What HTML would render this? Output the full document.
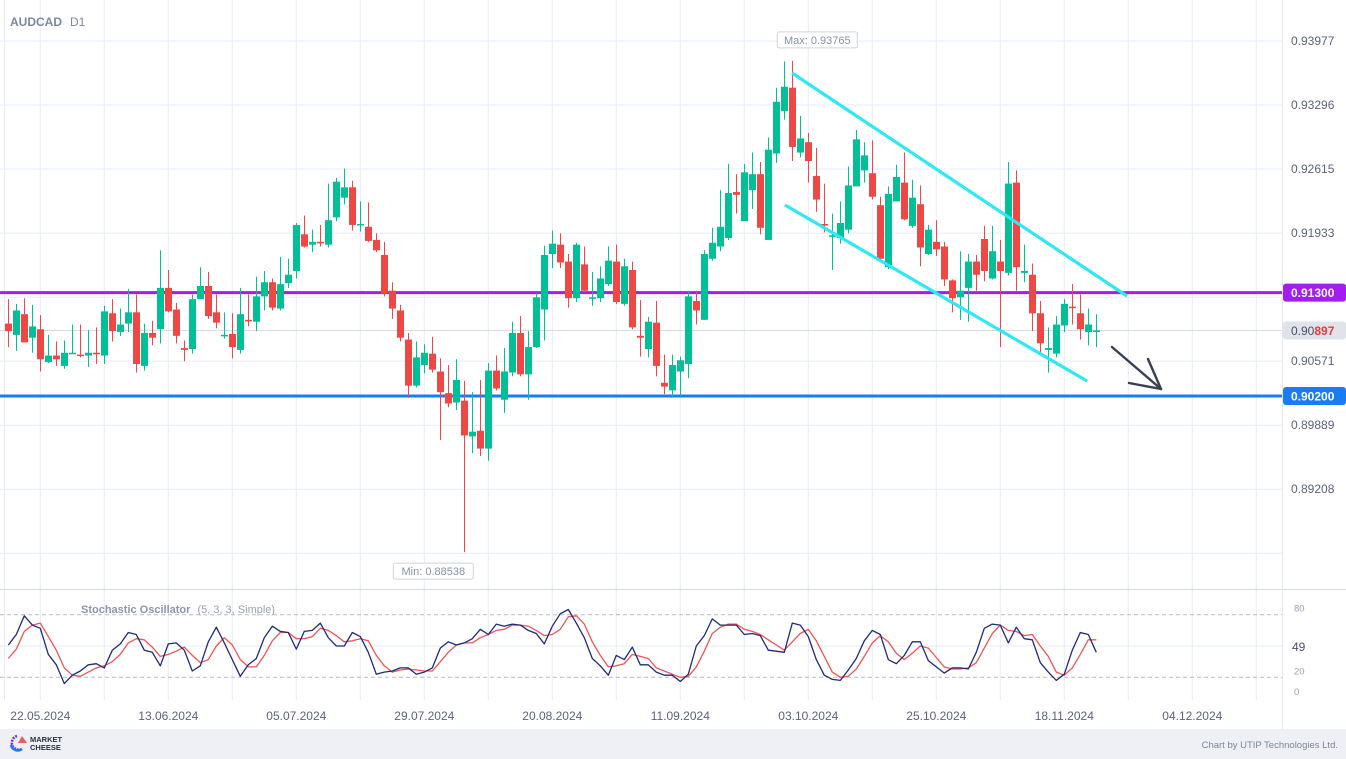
<!DOCTYPE html>
<html><head><meta charset="utf-8"><title>AUDCAD D1</title>
<style>
html,body{margin:0;padding:0;background:#fff;width:1346px;height:759px;overflow:hidden;font-family:"Liberation Sans",Arial,sans-serif;}
svg{display:block}
</style></head>
<body>
<svg id="chart" width="1346" height="759" viewBox="0 0 1346 759" xmlns="http://www.w3.org/2000/svg">
  <rect x="0" y="0" width="1346" height="759" fill="#ffffff"/>
  <g id="grid"></g>
  <g id="stochGrid"></g>
  <line x1="0" y1="589.5" x2="1346" y2="589.5" stroke="#d6dae2" stroke-width="1"/>
  <line x1="1282.5" y1="0" x2="1282.5" y2="729" stroke="#e3e7ef" stroke-width="1"/>
  <g id="levels"></g>
  <g id="candles"></g>
  <g id="drawings">
    <line x1="792" y1="73" x2="1127" y2="296" stroke="#2ee8f5" stroke-width="3.2"/>
    <line x1="785" y1="205" x2="1087" y2="381" stroke="#2ee8f5" stroke-width="3.2"/>
    <g stroke="#3a3f52" stroke-width="2.4" fill="none" stroke-linecap="round">
      <line x1="1112" y1="347" x2="1161" y2="389"/>
      <line x1="1148" y1="359" x2="1161" y2="389"/>
      <line x1="1129" y1="383" x2="1161" y2="389"/>
    </g>
  </g>
  <g id="stoch"></g>
  <g id="axes"></g>
  <text x="10" y="26" font-size="12" font-weight="bold" fill="#7d889e">AUDCAD<tspan dx="8" font-weight="normal">D1</tspan></text>
  <text x="81" y="613" font-size="11" font-weight="bold" fill="#8c95aa">Stochastic Oscillator<tspan dx="7" font-weight="normal" fill="#9aa2b5">(5, 3, 3, Simple)</tspan></text>
  <rect x="0" y="729" width="1346" height="30" fill="#eef0f5"/>
  <g>
    <path d="M 17 736 A 7 7 0 1 0 22 749" fill="none" stroke="#8a2be2" stroke-width="2.6" stroke-dasharray="2 1"/>
    <path d="M 11 745 A 7 7 0 0 0 22 749" fill="none" stroke="#1e7bf0" stroke-width="2.6"/>
    <path d="M 18 743 L 22 736 L 27 743 Z" fill="#ef5a5a"/>
    <text x="30" y="742" font-size="7.5" font-weight="bold" fill="#2a2f3d">MARKET</text>
    <text x="30" y="750" font-size="7.5" font-weight="bold" fill="#2a2f3d">CHEESE</text>
  </g>
  <text x="1338" y="748" font-size="9.5" fill="#7d8598" text-anchor="end">Chart by UTIP Technologies Ltd.</text>
</svg>
<script>
const opens=[0.9097,0.9085,0.9107,0.9082,0.9091,0.9056,0.9063,0.9052,0.9065,0.9064,0.9063,0.9066,0.9063,0.9108,0.9088,0.9097,0.9109,0.9052,0.9087,0.9091,0.9135,0.9112,0.9071,0.9070,0.9123,0.9137,0.9109,0.9084,0.9086,0.9069,0.9101,0.9099,0.9126,0.9141,0.9113,0.9140,0.9153,0.9192,0.9181,0.9184,0.9181,0.9210,0.9231,0.9242,0.9202,0.9200,0.9186,0.9170,0.9132,0.9111,0.9080,0.9031,0.9053,0.9065,0.9046,0.9023,0.9013,0.9015,0.8977,0.8983,0.8964,0.9047,0.9016,0.9045,0.9087,0.9043,0.9072,0.9112,0.9171,0.9181,0.9163,0.9124,0.9160,0.9124,0.9124,0.9139,0.9163,0.9118,0.9154,0.9084,0.9070,0.9098,0.9034,0.9026,0.9046,0.9054,0.9121,0.9101,0.9166,0.9179,0.9188,0.9237,0.9206,0.9239,0.9256,0.9186,0.9278,0.9323,0.9348,0.9279,0.9290,0.9254,0.9203,0.9190,0.9188,0.9197,0.9243,0.9260,0.9257,0.9223,0.9157,0.9227,0.9247,0.9201,0.9224,0.9171,0.9184,0.9179,0.9143,0.9125,0.9135,0.9163,0.9187,0.9145,0.9163,0.9151,0.9247,0.9151,0.9149,0.9108,0.9069,0.9065,0.9095,0.9115,0.9108,0.9088,0.9089];
const highs=[0.9123,0.9118,0.9124,0.9117,0.9106,0.9085,0.9078,0.9079,0.9096,0.9096,0.9090,0.9093,0.9116,0.9123,0.9113,0.9134,0.9128,0.9097,0.9100,0.9175,0.9154,0.9119,0.9079,0.9128,0.9157,0.9152,0.9128,0.9109,0.9108,0.9135,0.9128,0.9147,0.9153,0.9145,0.9168,0.9166,0.9204,0.9212,0.9197,0.9202,0.9246,0.9252,0.9262,0.9249,0.9227,0.9226,0.9193,0.9184,0.9141,0.9117,0.9087,0.9078,0.9075,0.9083,0.9060,0.9053,0.9059,0.9036,0.9024,0.9037,0.9055,0.9063,0.9071,0.9099,0.9105,0.9089,0.9129,0.9180,0.9196,0.9193,0.9171,0.9183,0.9179,0.9152,0.9158,0.9179,0.9181,0.9166,0.9163,0.9122,0.9104,0.9121,0.9064,0.9064,0.9062,0.9132,0.9132,0.9175,0.9199,0.9239,0.9267,0.9256,0.9267,0.9279,0.9269,0.9295,0.9348,0.9376,0.93765,0.9318,0.9300,0.9284,0.9246,0.9214,0.9227,0.9264,0.9303,0.9290,0.9292,0.9232,0.9243,0.9266,0.9279,0.9250,0.9244,0.9202,0.9207,0.9184,0.9144,0.9174,0.9171,0.9170,0.9201,0.9201,0.9186,0.9269,0.9260,0.9181,0.9161,0.9121,0.9093,0.9105,0.9123,0.9139,0.9128,0.9113,0.9107];
const lows=[0.9072,0.9068,0.9077,0.9066,0.9046,0.9055,0.9052,0.9049,0.9065,0.9061,0.9051,0.9054,0.9054,0.9078,0.9084,0.9088,0.9045,0.9047,0.9074,0.9076,0.9109,0.9076,0.9057,0.9065,0.9123,0.9102,0.9092,0.9081,0.9060,0.9065,0.9094,0.9089,0.9111,0.9111,0.9111,0.9135,0.9145,0.9178,0.9173,0.9179,0.9178,0.9206,0.9224,0.9196,0.9195,0.9184,0.9173,0.9126,0.9102,0.9078,0.9018,0.9029,0.9044,0.9045,0.8973,0.9008,0.9005,0.88538,0.8959,0.8956,0.8951,0.9026,0.9002,0.9041,0.9041,0.9016,0.9071,0.9079,0.9156,0.9156,0.9114,0.9120,0.9130,0.9116,0.9120,0.9137,0.9118,0.9116,0.9091,0.9062,0.9061,0.9041,0.9022,0.9019,0.9020,0.9039,0.9096,0.9101,0.9164,0.9174,0.9186,0.9214,0.9206,0.9219,0.9192,0.9186,0.9268,0.9314,0.9270,0.9274,0.9247,0.9216,0.9194,0.9154,0.9182,0.9193,0.9243,0.9247,0.9229,0.9164,0.9155,0.9227,0.9207,0.9199,0.9158,0.9170,0.9169,0.9137,0.9109,0.9101,0.9099,0.9132,0.9142,0.9144,0.9072,0.9148,0.9132,0.9141,0.9089,0.9064,0.9045,0.9061,0.9088,0.9096,0.9080,0.9074,0.9072];
const closes=[0.9089,0.9111,0.9077,0.9094,0.9059,0.9063,0.9059,0.9066,0.9066,0.9063,0.9066,0.9065,0.9110,0.9089,0.9096,0.9109,0.9054,0.9087,0.9082,0.9135,0.9110,0.9084,0.9069,0.9123,0.9137,0.9105,0.9098,0.9085,0.9072,0.9107,0.9100,0.9126,0.9141,0.9114,0.9139,0.9149,0.9202,0.9179,0.9184,0.9183,0.9207,0.9248,0.9242,0.9202,0.9203,0.9185,0.9175,0.9129,0.9113,0.9082,0.9031,0.9061,0.9066,0.9048,0.9024,0.9012,0.9037,0.8978,0.8982,0.8964,0.9047,0.9028,0.9046,0.9087,0.9043,0.9072,0.9125,0.9170,0.9182,0.9162,0.9124,0.9181,0.9132,0.9125,0.9145,0.9164,0.9120,0.9158,0.9093,0.9082,0.9099,0.9052,0.9030,0.9053,0.9058,0.9126,0.9111,0.9171,0.9183,0.9200,0.9236,0.9234,0.9258,0.9256,0.9199,0.9282,0.9333,0.9349,0.9285,0.9294,0.9270,0.9229,0.9202,0.9191,0.9204,0.9244,0.9293,0.9276,0.9232,0.9166,0.9235,0.9253,0.9208,0.9231,0.9178,0.9197,0.9176,0.9144,0.9124,0.9132,0.9163,0.9149,0.9153,0.9174,0.9153,0.9246,0.9157,0.9153,0.9108,0.9076,0.9071,0.9096,0.9118,0.9114,0.9091,0.9096,0.90897];
const stochK=[51,61,79,70,67,42,32,14,22,26,32,33,29,46,52,63,61,46,44,31,52,53,46,26,31,54,68,53,37,21,32,38,58,69,64,63,47,64,65,72,58,50,50,63,59,44,23,25,26,29,29,23,25,29,48,54,51,53,57,66,61,71,69,71,70,65,62,52,69,81,85,72,58,38,31,22,41,37,49,32,32,25,22,22,16,23,50,60,76,70,70,70,61,62,60,46,45,44,72,70,59,37,22,18,17,27,38,55,65,61,37,33,41,54,54,36,30,24,29,29,28,44,67,71,70,53,68,57,56,34,25,17,23,46,63,61,44];
const stochD=[38,47,64,70,72,59,46,29,22,21,25,29,31,35,42,53,57,56,49,40,42,45,49,41,34,37,50,58,51,37,30,30,41,55,63,63,57,57,59,67,65,60,54,55,57,55,41,31,25,27,28,27,26,26,35,44,51,53,53,58,61,65,66,70,70,69,65,60,61,66,78,79,71,54,41,30,31,33,42,40,38,29,26,23,20,21,30,45,62,68,71,71,66,64,61,56,51,46,54,62,66,55,40,25,20,21,28,40,53,60,54,43,37,43,50,48,39,30,28,28,29,34,48,62,70,65,64,60,61,50,40,25,22,29,42,56,56];
const dateLabels=["22.05.2024","13.06.2024","05.07.2024","29.07.2024","20.08.2024","11.09.2024","03.10.2024","25.10.2024","18.11.2024","04.12.2024"];
const dateIndex=[4,20,36,52,68,84,100,116,132,148];
const priceTicks=[0.93977,0.93296,0.92615,0.91933,0.90571,0.89889,0.89208];
const gridPrices=[0.93977,0.93296,0.92615,0.91933,0.91252,0.90571,0.89889,0.89208,0.88527];
const levelPrices=[0.91300,0.90200];
const stochLevels=[80,20];
const stochLabels=[80,20,0];

const NS="http://www.w3.org/2000/svg";
const X0=8.3, STEP=8;
function xs(i){return X0+STEP*i;}
function ys(p){return 41+(0.93977-p)*9398;}
function ysto(v){return 677.3-(v-20)*1.043;}
function mk(tag,attrs,parent){const e=document.createElementNS(NS,tag);for(const k in attrs)e.setAttribute(k,attrs[k]);parent.appendChild(e);return e;}

const grid=document.getElementById('grid');
mk('line',{x1:4.5,y1:0,x2:4.5,y2:700,stroke:'#e6ecf6','stroke-width':1},grid);
for(let k=0;k<20;k++){
  const gx=xs(4)+64*k;
  const l=mk('line',{x1:gx,y1:0,x2:gx,y2:700,stroke:'#e6ecf6','stroke-width':1},grid);
  
  
}
gridPrices.forEach(p=>{
  const l=mk('line',{x1:0,y1:ys(p),x2:1282,y2:ys(p),stroke:'#e6ecf6','stroke-width':1},grid);
  
  
});
const cur=closes[closes.length-1];
const cl=mk('line',{x1:0,y1:ys(cur),x2:1282,y2:ys(cur),stroke:'#d8dbe3','stroke-width':1},grid);



const sg=document.getElementById('stochGrid');
mk('line',{x1:0,y1:ysto(50),x2:1282,y2:ysto(50),stroke:'#e6ecf6','stroke-width':1},sg);
stochLevels.forEach(v=>{
  const l=mk('line',{x1:0,y1:ysto(v),x2:1282,y2:ysto(v),stroke:'#b9bcc4','stroke-width':1,'stroke-dasharray':'4 3'},sg);
  
  
});

const lv=document.getElementById('levels');
const levelColors=['#a31cf0','#1a7cf5'];
levelPrices.forEach((p,j)=>{
  const l=mk('line',{x1:0,y1:ys(p),x2:1282,y2:ys(p),stroke:levelColors[j],'stroke-width':3},lv);
  
  
});

const cg=document.getElementById('candles');
for(let i=0;i<opens.length;i++){
  const o=opens[i],h=highs[i],lo=lows[i],c=closes[i];
  const up=c>=o;const col=up?'#03bf95':'#ef4646';
  const g=mk('g',{},cg);
  
  
  const x=Math.round(xs(i))+0.5;
  mk('line',{x1:x,y1:ys(h),x2:x,y2:ys(lo),stroke:col,'stroke-width':1},g);
  const top=ys(Math.max(o,c)),bot=ys(Math.min(o,c));
  mk('rect',{x:x-3.5,y:top,width:7,height:Math.max(1.5,bot-top),fill:col},g);
}

function extremeLabel(txt,i,p,above){
  const cx=xs(i);const w=80,h=16;
  const g=mk('g',{},document.getElementById('axes'));
  
  
  const y=above?ys(p)-29:ys(p)+11;
  const bx=above?cx-15:cx-71;
  mk('rect',{x:bx,y:y,width:w,height:h,rx:2,fill:'#fff',stroke:'#d0d4dc','stroke-width':1},g);
  const t=mk('text',{x:bx+w/2,y:y+12,'font-size':11,fill:'#8a92a6','text-anchor':'middle'},g);
  t.textContent=txt;
}
let maxI=0,minI=0;
for(let i=0;i<highs.length;i++){if(highs[i]>highs[maxI])maxI=i;if(lows[i]<lows[minI])minI=i;}
extremeLabel('Max: '+highs[maxI].toFixed(5),maxI,highs[maxI],true);
extremeLabel('Min: '+lows[minI].toFixed(5),minI,lows[minI],false);

const st=document.getElementById('stoch');
function poly(arr,col,name){
  const pts=arr.map((v,i)=>xs(i).toFixed(1)+','+ysto(v).toFixed(1)).join(' ');
  const p=mk('polyline',{points:pts,fill:'none',stroke:col,'stroke-width':1.3,'stroke-linejoin':'round'},st);
  
  
}
poly(stochD,'#ee5555','stochastic-d-line');
poly(stochK,'#1f2a7a','stochastic-k-line');

const ax=document.getElementById('axes');
priceTicks.forEach(p=>{
  const t=mk('text',{x:1291,y:ys(p)+4,'font-size':12,fill:'#5d6478'},ax);
  
  
  t.textContent=p.toFixed(5);
});
levelPrices.forEach((p,j)=>{
  const r=mk('rect',{x:1283,y:ys(p)-9,width:63,height:18,rx:3,fill:levelColors[j]},ax);
  
  
  const t=mk('text',{x:1291,y:ys(p)+4.5,'font-size':12,'font-weight':'bold',fill:'#fff'},ax);
  
  
  t.textContent=p.toFixed(5);
});
const cr=mk('rect',{x:1283,y:ys(cur)-9,width:63,height:18,rx:3,fill:'#e1e3ea'},ax);


const ct=mk('text',{x:1291,y:ys(cur)+4.5,'font-size':12,fill:'#4a5066'},ax);


const cs=cur.toFixed(5);
ct.textContent=cs.slice(0,4);
const tsp=mk('tspan',{fill:'#e83a3a','font-weight':'bold'},ct);
tsp.textContent=cs.slice(4);
stochLabels.forEach(v=>{
  const t=mk('text',{x:1294,y:ysto(v)-3,'font-size':9.5,fill:'#9aa0b0'},ax);
  
  
  t.textContent=String(v);
});
const kt=mk('text',{x:1292,y:651,'font-size':12,fill:'#4a5066'},ax);


kt.textContent='49';
dateLabels.forEach((d,j)=>{
  const t=mk('text',{x:xs(dateIndex[j]),y:720,'font-size':12,fill:'#5d6478','text-anchor':'middle'},ax);
  
  
  t.textContent=d;
});
</script>
</body></html>
